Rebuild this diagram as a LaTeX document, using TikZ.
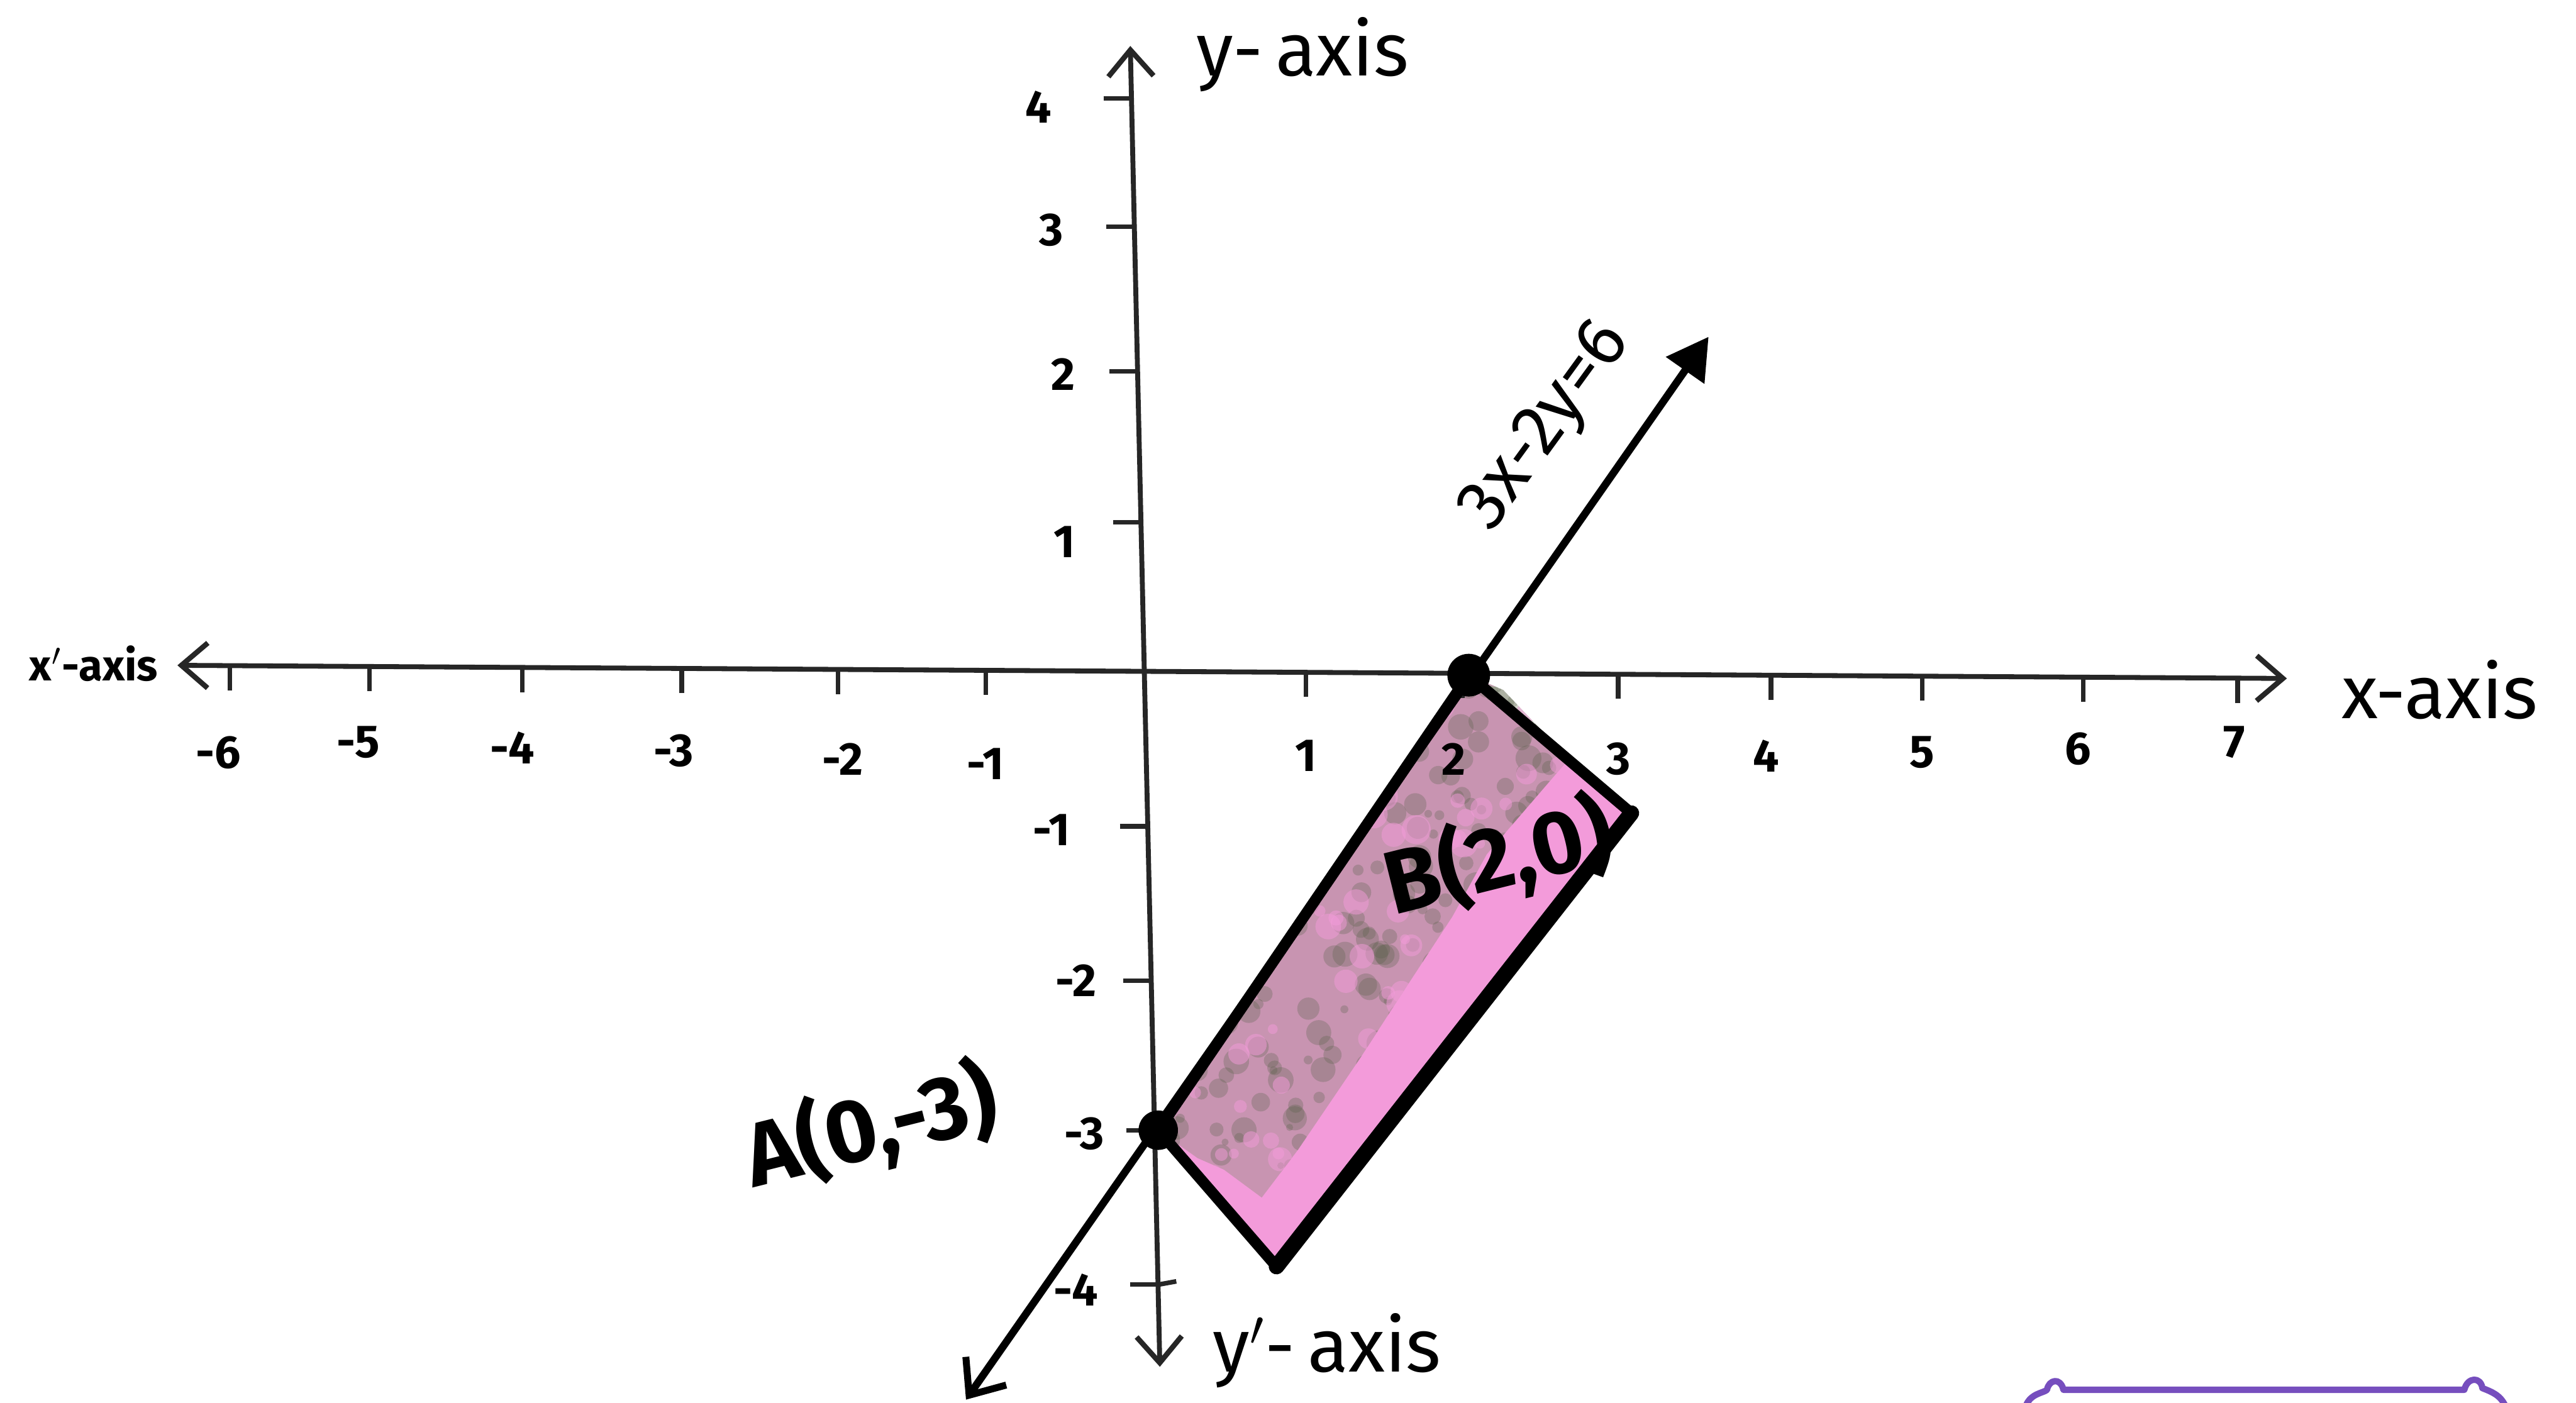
\documentclass[tikz,border=0pt]{standalone}
\usepackage{fontspec}
\setmainfont{Fira Sans}
\usetikzlibrary{arrows.meta}
\definecolor{pinkfill}{RGB}{243,155,218}
\definecolor{mottle}{RGB}{130,138,112}
\definecolor{speck}{RGB}{85,95,70}
\definecolor{purp}{RGB}{118,78,190}
\begin{document}
\begin{tikzpicture}[x=0.02cm,y=-0.02cm,
  axisline/.style={line width=1.7pt, draw=black!85},
  barb/.tip={Straight Barb[length=0.32cm,width=0.55cm,line width=1.8pt]},
  tick/.style={line width=1.6pt, draw=black!85},
  ticklab/.style={font=\fontsize{16}{18}\selectfont\bfseries, inner sep=0pt},
  axislab/.style={font=\fontsize{26}{30}\selectfont, inner sep=0pt},
  ptlab/.style={font=\fontsize{31}{34}\selectfont\bfseries, inner sep=0pt},
  dotmark/.style={circle, fill=black, minimum size=0.48cm, inner sep=0pt},
  edge/.style={line width=3.8pt, line join=round, line cap=round}
]
\fill[white] (0,0) rectangle (1568,854);
\useasboundingbox (0,0) rectangle (1568,854);

% key points
\coordinate (A) at (705,688);
\coordinate (B) at (894,411);
\coordinate (C) at (993,495);
\coordinate (D) at (777,771);

% shaded region
\fill[pinkfill] (A) -- (B) -- (C) -- (D) -- cycle;
\begin{scope}
  \clip (B) -- (915,420) -- (955,462) -- (905,520) -- (884,558) -- (850,610) -- (828,644) -- (790,700) -- (768,729) -- (745,712) -- (729,705) -- (A) -- cycle;
  \fill[mottle, opacity=0.38] (700,400) rectangle (1000,780);
  \pgfmathsetseed{17}
  \foreach \i in {1,...,420}{
    \pgfmathsetmacro{\rx}{700+rnd*260}
    \pgfmathsetmacro{\ry}{405+rnd*330}
    \pgfmathsetmacro{\rr}{2+rnd*6}
    \fill[speck, opacity=0.28] (\rx,\ry) circle[radius=\rr];
  }
  \foreach \i in {1,...,120}{
    \pgfmathsetmacro{\rx}{700+rnd*260}
    \pgfmathsetmacro{\ry}{405+rnd*330}
    \pgfmathsetmacro{\rr}{3+rnd*6}
    \fill[pinkfill, opacity=0.5] (\rx,\ry) circle[radius=\rr];
  }
\end{scope}

% axes
\coordinate (xl) at (108,405);
\coordinate (xr) at (1392,413);
\coordinate (yt) at (688,28);
\coordinate (yb) at (706,832);
\draw[axisline, {barb}-{barb}] (xl) -- (xr);
\draw[axisline, {barb}-{barb}] (yb) -- (yt);

% x ticks and labels
\foreach \tx/\lab/\lx/\ly in {140/-6/133/458, 225/-5/218/452, 318/-4/312/455, 415/-3/410/457, 510/-2/513/462, 600/-1/600/465, 795/1/795/460, 890/2/885/462, 985/3/985/462, 1078/4/1075/460, 1170/5/1170/458, 1268/6/1265/456, 1362/7/1360/452}{
  \pgfmathsetmacro{\tyy}{405+(\tx-108)*8/1284}
  \draw[tick] (\tx,\tyy) -- (\tx,\tyy+15);
  \node[ticklab] (xlab\lab) at (\lx,\ly) {\lab};
}

% y ticks and labels
\foreach \ty/\lab/\lx/\ly in {60/4/632/65, 138/3/640/140, 226/2/647/228, 318/1/648/330, 503/-1/640/505, 597/-2/655/597, 688/-3/660/690, 782/-4/655/785}{
  \pgfmathsetmacro{\txx}{688+(\ty-28)*18/804}
  \draw[tick] (\txx-17,\ty) -- (\txx,\ty);
  \node[ticklab] (ylab\lab) at (\lx,\ly) {\lab};
}
\draw[tick] (705,782) -- (716,780);

% quadrilateral edges
\draw[edge] (B) -- (C);
\draw[edge] (A) -- (D);
\draw[edge, line width=5.4pt] (C) -- (D);

% line 3x-2y=6
\coordinate (Lb) at (588,852);
\coordinate (Lt) at (1040,205);
\draw[line width=2.6pt, {Straight Barb[length=0.36cm,width=0.6cm,line width=2.4pt]}-{Triangle[length=0.5cm,width=0.55cm]}] (Lb) -- (Lt);
\draw[edge] (A) -- (B);

% points
\node[dotmark] (Adot) at (A) {};
\node[dotmark, minimum size=0.52cm] (Bdot) at (B) {};

% labels
\node[axislab, anchor=west] (ylabel) at (728,33) {y-\,axis};
\node[axislab, anchor=west] (xlabel) at (1425,420) {x-axis};
\node[font=\fontsize{15}{17}\selectfont\bfseries, inner sep=0pt] (xplabel) at (57,404) {x$'$-axis};
\node[axislab, anchor=west] (yplabel) at (738,822) {y$'$-\,axis};
\node[font=\fontsize{25}{28}\selectfont, inner sep=0pt, rotate=54] (eqlabel) at (942,260) {3x-2y=6};
\node[ptlab, rotate=14] (Alabel) at (530,686) {A(0,-3)};
\node[ptlab, rotate=14] (Blabel) at (912,522) {B(2,0)};

% purple box edge at the bottom right
\draw[purp, line width=2.2pt, line cap=round, line join=round]
  (1233,856) .. controls (1236,848) and (1244,848) .. (1246,846)
  .. controls (1247,840) and (1254,838) .. (1256,846)
  -- (1500,846)
  .. controls (1502,838) and (1510,838) .. (1511,845)
  .. controls (1516,847) and (1522,849) .. (1525,856);
\end{tikzpicture}
\end{document}
